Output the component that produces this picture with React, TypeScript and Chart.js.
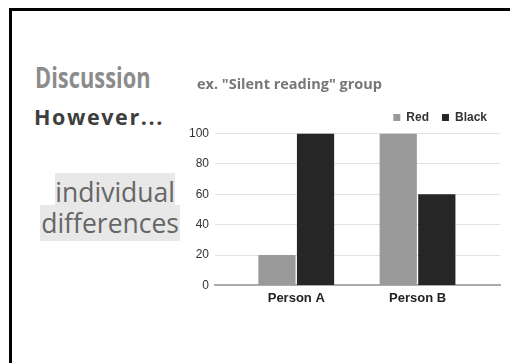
import React, { useEffect, useRef } from 'react';
import { Chart, registerables } from 'chart.js';

Chart.register(...registerables);

const categories = ['Person A', 'Person B'];
const seriesNames = ['Red', 'Black'];
const redValues = [20, 100];
const blackValues = [100, 60];
const yLabelStep = 20;
const yGridStep = 10;
const yMax = 100;
const chartTitle = 'ex. "Silent reading" group';
const slideHeading = 'Discussion';
const slideSub = 'However...';
const slideNoteLines = ['individual', 'differences'];

const abs = (s: React.CSSProperties): React.CSSProperties => ({ position: 'absolute', whiteSpace: 'nowrap', margin: 0, ...s });

const titleIndent = {
  id: 'titleIndent',
  afterLayout(chart: any) {
    if (chart.titleBlock) {
      chart.titleBlock.left += 9;
      chart.titleBlock.right += 9;
    }
  },
};

export default function App() {
  const ref = useRef<HTMLCanvasElement>(null);

  useEffect(() => {
    const chart = new Chart(ref.current!, {
      type: 'bar',
      plugins: [titleIndent],
      data: {
        datasets: [
          {
            label: seriesNames[0],
            data: redValues.map((y, i) => ({ x: i, y })),
            backgroundColor: '#9a9a9a',
            borderWidth: 0,
          },
          {
            label: seriesNames[1],
            data: blackValues.map((y, i) => ({ x: i, y })),
            backgroundColor: '#262626',
            borderWidth: 0,
          },
        ],
      },
      options: {
        animation: false,
        responsive: false,
        devicePixelRatio: 1,
        categoryPercentage: 0.636,
        barPercentage: 0.965,
        layout: { padding: { left: 5, right: 3, top: 0, bottom: 0 } },
        plugins: {
          tooltip: { enabled: false },
          title: {
            display: true,
            text: chartTitle,
            align: 'start',
            color: '#777777',
            font: { family: '"Open Sans"', size: 14.5, weight: 'bold' },
            padding: { top: 6, bottom: 5 },
          },
          legend: {
            display: true,
            position: 'top',
            align: 'end',
            labels: {
              boxWidth: 7,
              boxHeight: 7,
              padding: 13,
              color: '#333333',
              font: { family: '"Liberation Sans", Arial, sans-serif', size: 12, weight: 'bold' },
            },
          },
        },
        scales: {
          x: {
            type: 'linear',
            offset: false,
            bounds: 'data',
            min: -0.67,
            max: 1.68,
            afterBuildTicks: (scale: any) => {
              scale.ticks = categories.map((_, i) => ({ value: i }));
            },
            grid: { display: false, drawTicks: false, offset: false },
            border: { display: true, color: '#ababab', width: 2 },
            ticks: {
              autoSkip: false,
              maxRotation: 0,
              padding: 5,
              color: '#222222',
              font: { family: '"Liberation Sans", Arial, sans-serif', size: 13, weight: 'bold' },
              callback: (v: any) => categories[Math.round(Number(v))] ?? '',
            },
          },
          y: {
            min: 0,
            max: yMax,
            afterFit: (scale: any) => {
              scale.width = 27;
            },
            grid: {
              drawTicks: false,
              color: (ctx: any) => (ctx.tick && ctx.tick.value === 0 ? 'rgba(0,0,0,0)' : '#e2e2e2'),
              lineWidth: 1,
            },
            border: { display: false },
            ticks: {
              stepSize: yGridStep,
              padding: 6,
              color: '#333333',
              font: { family: '"Liberation Sans", Arial, sans-serif', size: 12 },
              callback: (v: any) => (Number(v) % yLabelStep === 0 ? String(v) : ''),
            },
          },
        },
      } as any,
    });
    return () => chart.destroy();
  }, []);

  return (
    <div
      style={{
        position: 'fixed',
        left: 0,
        top: 0,
        width: 510,
        height: 363,
        background: '#ffffff',
        overflow: 'hidden',
      }}
    >
      <div style={abs({ left: 9, top: 8, width: 501, height: 3, background: '#000' })} />
      <div style={abs({ left: 9, top: 8, width: 3, height: 355, background: '#000' })} />

      <div style={abs({ left: 55, top: 173, width: 120, height: 32, background: '#e8e8e8' })} />
      <div style={abs({ left: 40, top: 205, width: 140, height: 36, background: '#e8e8e8' })} />

      <div
        style={abs({
          left: 35,
          top: 63,
          fontFamily: '"Open Sans", sans-serif',
          fontWeight: 700,
          fontSize: 28,
          lineHeight: '28px',
          color: '#8c8c8c',
          transform: 'scaleX(0.78)',
          transformOrigin: 'left top',
        })}
      >
        {slideHeading}
      </div>
      <div
        style={abs({
          left: 34,
          top: 106,
          fontFamily: '"Open Sans", sans-serif',
          fontWeight: 700,
          fontSize: 21.5,
          lineHeight: '21px',
          letterSpacing: 1.6,
          color: '#3e3e3e',
        })}
      >
        {slideSub}
      </div>
      <div
        style={abs({
          right: 510 - 175,
          top: 178.5,
          fontFamily: '"Open Sans", sans-serif',
          fontWeight: 400,
          fontSize: 26.5,
          lineHeight: '26px',
          color: '#666666',
          textAlign: 'right',
        })}
      >
        {slideNoteLines[0]}
      </div>
      <div
        style={abs({
          right: 510 - 179,
          top: 210,
          fontFamily: '"Open Sans", sans-serif',
          fontWeight: 400,
          fontSize: 26.5,
          lineHeight: '26px',
          color: '#666666',
          textAlign: 'right',
        })}
      >
        {slideNoteLines[1]}
      </div>

      <canvas
        ref={ref}
        width={320}
        height={241}
        style={{ position: 'absolute', left: 183, top: 70, width: 320, height: 241 }}
      />
    </div>
  );
}
